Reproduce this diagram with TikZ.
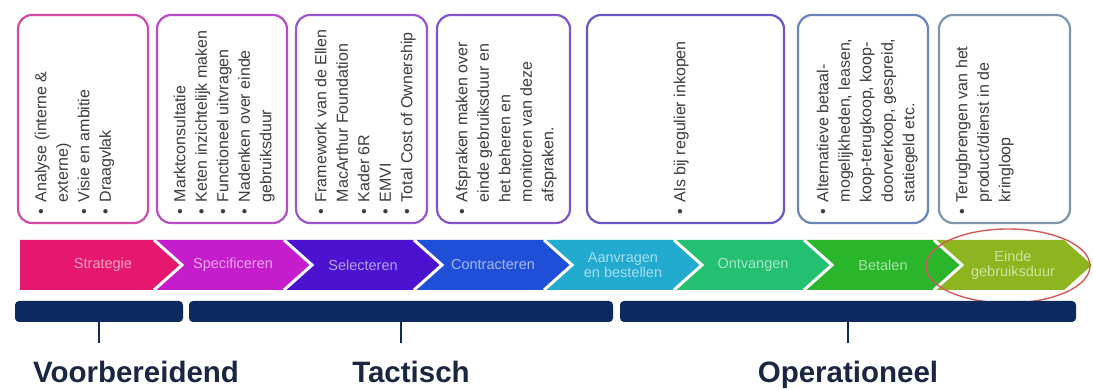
\documentclass[tikz,border=0pt]{standalone}
\usepackage{fontspec}
\setmainfont{Liberation Sans}
\usetikzlibrary{calc}
\definecolor{bA}{HTML}{D24AA8}
\definecolor{bB}{HTML}{B64CC6}
\definecolor{bC}{HTML}{9A56CE}
\definecolor{bD}{HTML}{7E55CB}
\definecolor{bE}{HTML}{6A56C6}
\definecolor{bF}{HTML}{6A84BA}
\definecolor{bG}{HTML}{7F96AA}
\definecolor{cStrat}{HTML}{E5176F}
\definecolor{cSpec}{HTML}{C51DCB}
\definecolor{cSel}{HTML}{4B13CF}
\definecolor{cCon}{HTML}{1F4FD7}
\definecolor{cAan}{HTML}{22AACF}
\definecolor{cOnt}{HTML}{22C070}
\definecolor{cBet}{HTML}{2AB52A}
\definecolor{cEin}{HTML}{8DB51F}
\definecolor{txtgrey}{HTML}{3C3C3C}
\definecolor{navy}{HTML}{0C2A5E}
\definecolor{ink}{HTML}{1A2642}
\definecolor{ringred}{HTML}{D05A5A}
\newcommand*{\chtop}{150}
\newcommand*{\chbot}{100}
\newcommand*{\chmid}{125}
\newcommand*{\chdep}{28}
\newcommand*{\chstep}{130}
\newcommand*{\chfirst}{182}
\tikzset{
	card/.style={
		draw=#1,
		line width=2.2pt,
		rounded corners=14pt,
		minimum height=208pt,
		outer sep=0pt,
		inner sep=0pt
	},
	cardtext/.style={
		rotate=90,
		anchor=north west,
		inner sep=0pt,
		text=txtgrey,
		font=\fontsize{16}{21.5}\selectfont
	},
	chevron/.style={fill=#1},
	chevlabel/.style={
		text=#1!40!white,
		align=center,
		inner sep=0pt,
		font=\fontsize{14.5}{15}\selectfont
	},
	gap/.style={draw=white, line width=3pt},
	bar/.style={
		fill=navy,
		minimum height=21pt,
		inner sep=0pt,
		outer sep=0pt,
		rounded corners=4pt
	},
	stem/.style={draw=navy, line width=2.4pt},
	phase/.style={
		anchor=base,
		inner sep=0pt,
		text=ink,
		font=\fontsize{29.5}{30}\selectfont\bfseries
	},
	ring/.style={draw=ringred, line width=1.4pt}
}

\begin{document}
\begin{tikzpicture}[x=1pt,y=1pt]
	\useasboundingbox[fill=white] (0,0) rectangle (1093,390);
	\foreach \n/\cx/\w/\col in {1/83/130/bA, 2/222/130/bB, 3/361.5/131/bC, 4/503.5/133/bD, 5/685.5/197/bE, 6/863/130/bF, 7/1004.5/131/bG} {
		\node (box\n) [card=\col, minimum width=\w pt] at (\cx,271) {};
	};
	\node (txt1) [cardtext] at ($(box1.south west)+(13,8)$) {%
		\begin{tabular}{@{}c@{\hspace{7pt}}l@{}}
		\textbullet & Analyse (interne \& \\
		            & externe) \\
		\textbullet & Visie en ambitie \\
		\textbullet & Draagvlak
		\end{tabular}};
	\node (txt2) [cardtext] at ($(box2.south west)+(13,8)$) {%
		\begin{tabular}{@{}c@{\hspace{7pt}}l@{}}
		\textbullet & Marktconsultatie \\
		\textbullet & Keten inzichtelijk maken \\
		\textbullet & Functioneel uitvragen \\
		\textbullet & Nadenken over einde \\
		            & gebruiksduur
		\end{tabular}};
	\node (txt3) [cardtext] at ($(box3.south west)+(15,8)$) {%
		\begin{tabular}{@{}c@{\hspace{7pt}}l@{}}
		\textbullet & Framework van de Ellen \\
		            & MacArthur Foundation \\
		\textbullet & Kader 6R \\
		\textbullet & EMVI \\
		\textbullet & Total Cost of Ownership
		\end{tabular}};
	\node (txt4) [cardtext] at ($(box4.south west)+(15,8)$) {%
		\begin{tabular}{@{}c@{\hspace{7pt}}l@{}}
		\textbullet & Afspraken maken over \\
		            & einde gebruiksduur en \\
		            & het beheren en \\
		            & monitoren van deze \\
		            & afspraken.
		\end{tabular}};
	\node (txt5) [cardtext] at ($(box5.south west)+(83,8)$) {%
		\begin{tabular}{@{}c@{\hspace{7pt}}l@{}}
		\textbullet & Als bij regulier inkopen
		\end{tabular}};
	\node (txt6) [cardtext] at ($(box6.south west)+(15,8)$) {%
		\begin{tabular}{@{}c@{\hspace{7pt}}l@{}}
		\textbullet & Alternatieve betaal- \\
		            & mogelijkheden, leasen, \\
		            & koop-terugkoop, koop- \\
		            & doorverkoop, gespreid, \\
		            & statiegeld etc.
		\end{tabular}};
	\node (txt7) [cardtext] at ($(box7.south west)+(13,8)$) {%
		\begin{tabular}{@{}c@{\hspace{7pt}}l@{}}
		\textbullet & Terugbrengen van het \\
		            & product/dienst in de \\
		            & kringloop
		\end{tabular}};
	\foreach \k/\col/\txt in {1/cStrat/Strategie, 2/cSpec/Specificeren, 3/cSel/Selecteren, 4/cCon/Contracteren, 5/cAan/{Aanvragen\\en bestellen}, 6/cOnt/Ontvangen, 7/cBet/Betalen, 8/cEin/{Einde\\gebruiksduur}} {
		\pgfmathsetmacro{\chL}{\k==1 ? 20 : \chfirst+\chstep*(\k-2)-\chdep}
		\pgfmathsetmacro{\chN}{\k==1 ? 20 : \chfirst+\chstep*(\k-2)}
		\pgfmathsetmacro{\chT}{\chfirst+\chstep*(\k-1)}
		\fill[chevron=\col] (\chL,\chtop) -- ({\chT-\chdep},\chtop) -- (\chT,\chmid) -- ({\chT-\chdep},\chbot) -- (\chL,\chbot) -- (\chN,\chmid) -- cycle;
		\node (ch\k) [chevlabel=\col] at ({\chT-79},\chmid) {\txt};
	};
	\foreach \k in {1,...,7} {
		\draw[gap] ({\chfirst+\chstep*(\k-1)-\chdep},\chtop) -- ({\chfirst+\chstep*(\k-1)},\chmid) -- ({\chfirst+\chstep*(\k-1)-\chdep},\chbot);
	};
	\draw[ring] (1008,124) ellipse [x radius=82, y radius=37];
	\node (bar1) [bar, minimum width=168pt] at (99,78.5) {};
	\node (bar2) [bar, minimum width=424pt] at (401,78.5) {};
	\node (bar3) [bar, minimum width=456pt] at (848,78.5) {};
	\foreach \n/\sx in {1/99, 2/401, 3/848} {
		\coordinate (end\n) at (\sx,47);
		\draw[stem] (bar\n.south) -- (end\n);
	};
	\node (ph1) [phase] at (136,7) {Voorbereidend};
	\node (ph2) [phase] at (411,7) {Tactisch};
	\node (ph3) [phase] at (848,7) {Operationeel};
\end{tikzpicture}
\end{document}
